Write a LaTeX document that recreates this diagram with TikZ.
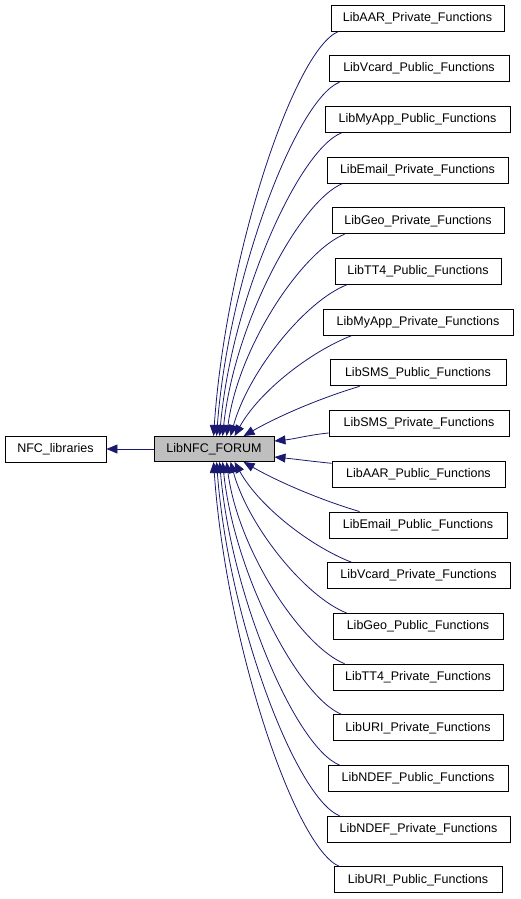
\documentclass[tikz,border=0pt]{standalone}
\usepackage{fontspec}
\setmainfont{Liberation Sans}
\usetikzlibrary{arrows.meta,calc}
\definecolor{edgeblue}{HTML}{191970}
\definecolor{focusgray}{HTML}{BFBFBF}
\begin{document}
\begin{tikzpicture}[x=1pt,y=-1pt,
  box/.style={draw=black,line width=0.9pt,fill=white,minimum height=26pt,inner sep=0pt,
    font=\fontsize{12.5}{14}\selectfont},
  edge/.style={draw=edgeblue,line width=0.8pt,-{Triangle[length=11pt,width=9pt]}}]
\useasboundingbox (0,0) rectangle (520,899);
\node[box,minimum width=101pt] (lib) at (55.5,449) {NFC\_libraries};
\node[box,minimum width=120pt,minimum height=25pt,fill=focusgray] (forum) at (214,449) {LibNFC\_FORUM};
\node[box,minimum width=173pt] (b1) at (417.5,18) {LibAAR\_Private\_Functions};
\node[box,minimum width=180pt] (b2) at (419,68.7) {LibVcard\_Public\_Functions};
\node[box,minimum width=185pt] (b3) at (417.5,119.4) {LibMyApp\_Public\_Functions};
\node[box,minimum width=181pt] (b4) at (417.5,170.1) {LibEmail\_Private\_Functions};
\node[box,minimum width=172pt] (b5) at (418,220.8) {LibGeo\_Private\_Functions};
\node[box,minimum width=166pt] (b6) at (418,271.5) {LibTT4\_Public\_Functions};
\node[box,minimum width=190pt] (b7) at (418,322.2) {LibMyApp\_Private\_Functions};
\node[box,minimum width=176pt] (b8) at (418,372.9) {LibSMS\_Public\_Functions};
\node[box,minimum width=180pt] (b9) at (419,423.6) {LibSMS\_Private\_Functions};
\node[box,minimum width=173pt] (b10) at (418.5,474.3) {LibAAR\_Public\_Functions};
\node[box,minimum width=178pt] (b11) at (418,525) {LibEmail\_Public\_Functions};
\node[box,minimum width=183pt] (b12) at (418.5,575.7) {LibVcard\_Private\_Functions};
\node[box,minimum width=170pt] (b13) at (418,626.4) {LibGeo\_Public\_Functions};
\node[box,minimum width=170pt] (b14) at (418,677.1) {LibTT4\_Private\_Functions};
\node[box,minimum width=170pt] (b15) at (418,727.8) {LibURI\_Private\_Functions};
\node[box,minimum width=180pt] (b16) at (418,778.5) {LibNDEF\_Public\_Functions};
\node[box,minimum width=183pt] (b17) at (418.5,829.2) {LibNDEF\_Private\_Functions};
\node[box,minimum width=168pt] (b18) at (418,879.9) {LibURI\_Public\_Functions};
% main edge
\draw[edge] (forum.west) -- (lib.east);
% upper edges
\draw[edge] ($(b1.south west)+(8,0)$) .. controls +(-44,17.5) and +(12.5,-182) .. ($(forum.north west)+(60,0)$);
\draw[edge] ($(b2.south west)+(11,0)$) .. controls +(-43,17) and +(12,-160) .. ($(forum.north west)+(63,0)$);
\draw[edge] ($(b3.south west)+(17,0)$) .. controls +(-43,17) and +(12,-137) .. ($(forum.north west)+(66,0)$);
\draw[edge] ($(b4.south west)+(16,0)$) .. controls +(-42,17) and +(12,-114) .. ($(forum.north west)+(69,0)$);
\draw[edge] ($(b5.south west)+(13,0)$) .. controls +(-41,16) and +(12,-91) .. ($(forum.north west)+(73,0)$);
\draw[edge] ($(b6.south west)+(12,0)$) .. controls +(-41,16) and +(18,-65) .. ($(forum.north west)+(77,0)$);
\draw[edge] ($(b7.south west)+(29,0)$) .. controls +(-41,16) and +(25,-45) .. ($(forum.north west)+(81,0)$);
\draw[edge] ($(b8.south west)+(30,0)$) .. controls +(-40,12) and +(35,-20) .. ($(forum.north west)+(90,0)$);
\draw[edge] ($(b9.west)+(0,9.4)$) .. controls +(-20,2) and +(20,-2) .. ($(forum.east)+(0,-8)$);
% lower edges
\draw[edge] ($(b10.west)+(0,-11)$) .. controls +(-20,-2) and +(20,2) .. ($(forum.east)+(0,8)$);
\draw[edge] ($(b11.north west)+(31,0)$) .. controls +(-40,-12) and +(35,20) .. ($(forum.south west)+(90,0)$);
\draw[edge] ($(b12.north west)+(25,0)$) .. controls +(-41,-16) and +(25,45) .. ($(forum.south west)+(81,0)$);
\draw[edge] ($(b13.north west)+(14,0)$) .. controls +(-41,-16) and +(18,65) .. ($(forum.south west)+(77,0)$);
\draw[edge] ($(b14.north west)+(12,0)$) .. controls +(-41,-16) and +(12,91) .. ($(forum.south west)+(73,0)$);
\draw[edge] ($(b15.north west)+(9,0)$) .. controls +(-42,-17) and +(12,114) .. ($(forum.south west)+(69,0)$);
\draw[edge] ($(b16.north west)+(12,0)$) .. controls +(-43,-17) and +(12,137) .. ($(forum.south west)+(66,0)$);
\draw[edge] ($(b17.north west)+(13,0)$) .. controls +(-43,-17) and +(12,160) .. ($(forum.south west)+(63,0)$);
\draw[edge] ($(b18.north west)+(6,0)$) .. controls +(-44,-17.5) and +(12.5,182) .. ($(forum.south west)+(60,0)$);
\end{tikzpicture}
\end{document}
